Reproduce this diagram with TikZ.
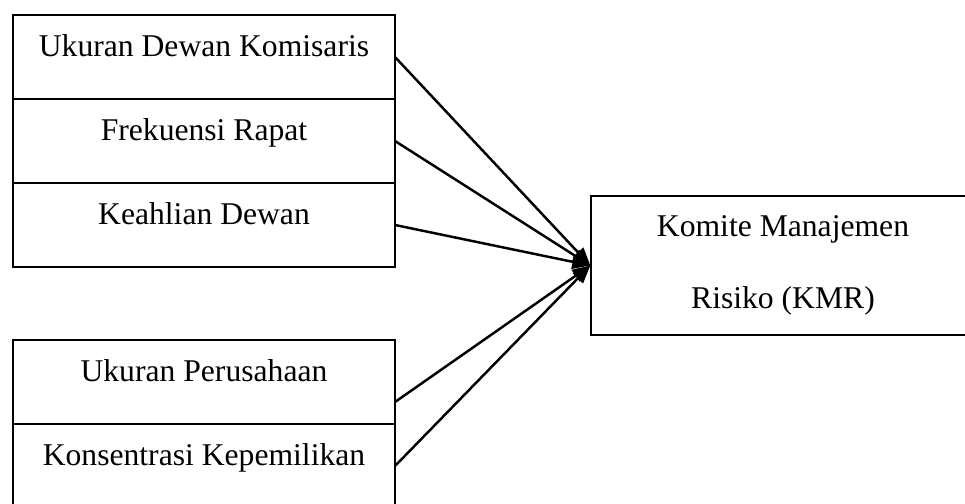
\documentclass[tikz,border=0pt]{standalone}
\usepackage{fontspec}
\setmainfont{Liberation Serif}
\usetikzlibrary{arrows.meta}
\tikzset{
    every node/.style={font=\fontsize{18}{41}\selectfont,},
    varbox/.style={draw,rectangle,line width=0.75pt,outer sep=0pt,inner sep=0pt,
        minimum width=7.64cm,minimum height=1.68cm,text height=0.45cm,text depth=0.49cm,},
    kmrbox/.style={draw,rectangle,align=center,line width=0.75pt,
        minimum width=7.68cm,minimum height=2.78cm,},
    link/.style={line width=1.4pt,-{Triangle[length=0.36cm,width=0.28cm]},},
}
\begin{document}
\begin{tikzpicture}
                \useasboundingbox (0, 0) rectangle (19.3, 10.06);

                \node[varbox] (komisaris) at (4.08, 8.92) {Ukuran Dewan Komisaris};
                \node[varbox] (rapat) at (4.08, 7.24) {Frekuensi Rapat};
                \node[varbox] (keahlian) at (4.08, 5.56) {Keahlian Dewan};

                \node[varbox] (perusahaan) at (4.08, 2.42) {Ukuran Perusahaan};
                \node[varbox] (kepemilikan) at (4.08, 0.74) {Konsentrasi Kepemilikan};

                \node[kmrbox] (kmr) at (15.66, 4.75) {Komite Manajemen\\Risiko (KMR)};

                \draw[link] (komisaris.east) to (kmr.west);
                \draw[link] (rapat.east) to (kmr.west);
                \draw[link] (keahlian.east) to (kmr.west);
                \draw[link] ([yshift=-0.4cm]perusahaan.east) to (kmr.west);
                \draw[link] (kepemilikan.east) to (kmr.west);
            \end{tikzpicture}
\end{document}
